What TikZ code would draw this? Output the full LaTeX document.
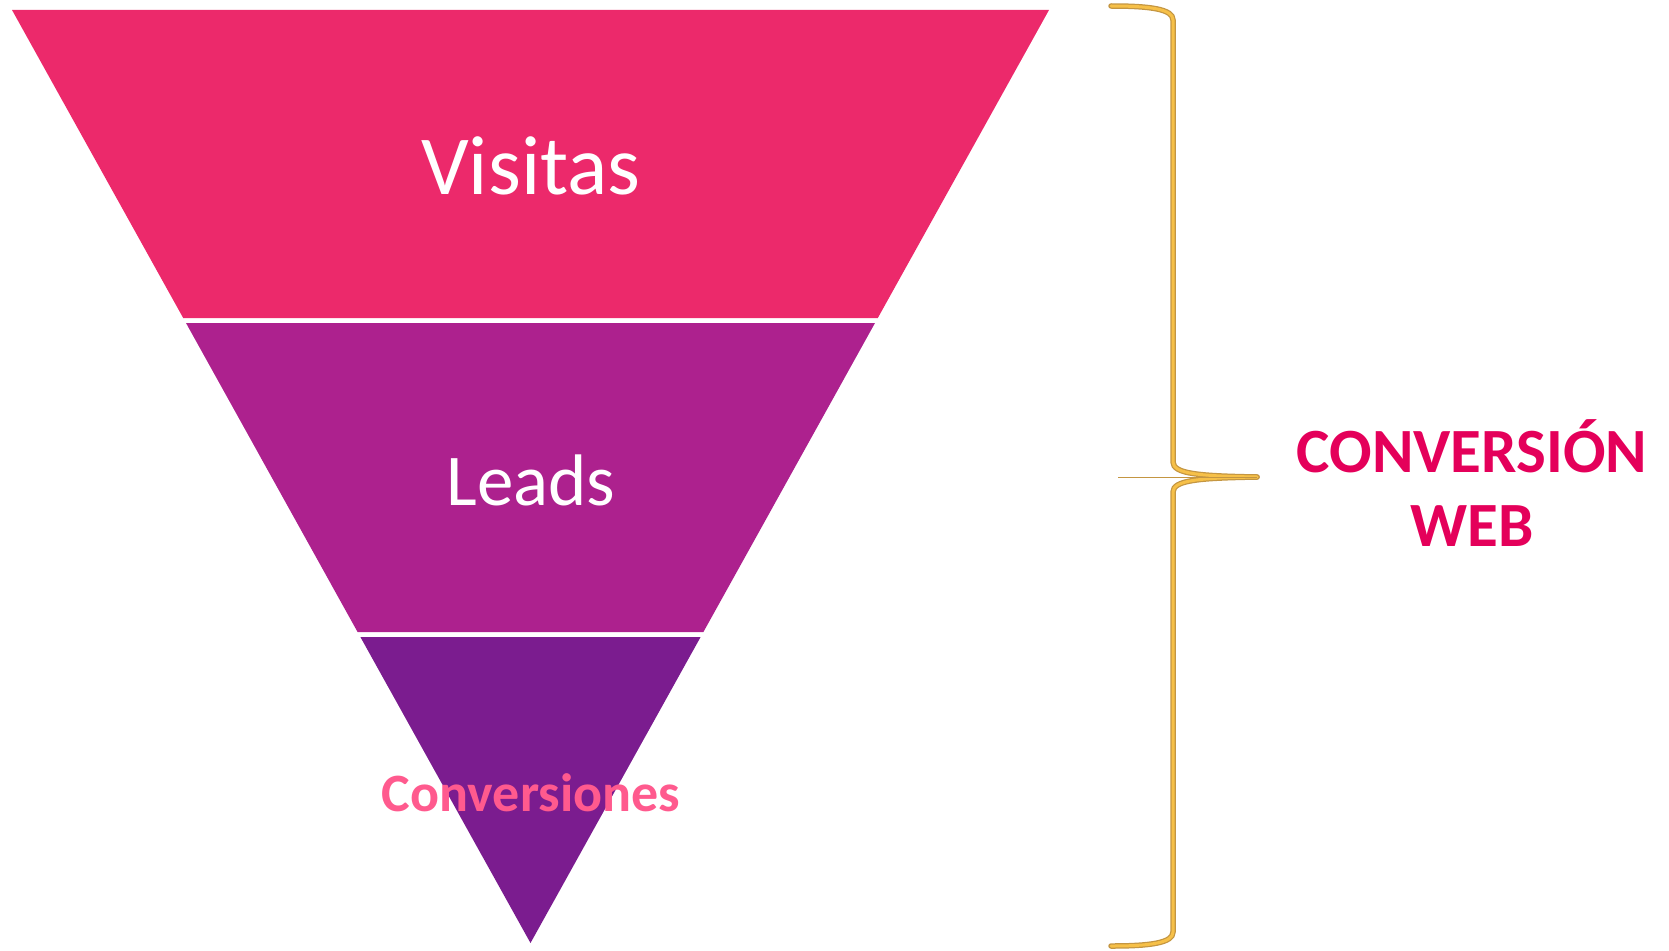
\documentclass[tikz,border=0pt]{standalone}
\usepackage{fontspec}
\setmainfont{Carlito}
\usetikzlibrary{positioning}
\definecolor{visitasColor}{RGB}{236,41,107}
\definecolor{leadsColor}{RGB}{173,33,142}
\definecolor{convColor}{RGB}{123,28,143}
\definecolor{convText}{RGB}{255,90,142}
\definecolor{webColor}{RGB}{228,0,90}
\definecolor{braceEdge}{RGB}{196,150,66}
\definecolor{braceColor}{RGB}{246,192,72}
\newcommand{\stageFont}{\fontsize{84}{100}\selectfont}
\newcommand{\leadsFont}{\fontsize{73}{88}\selectfont}
\newcommand{\convFont}{\fontsize{54}{64}\selectfont\bfseries}
\newcommand{\webFont}{\fontsize{63}{74}\selectfont\bfseries}
\newcommand{\braceX}{1173}
\newcommand{\braceTip}{1257}

\begin{document}
\begin{tikzpicture}[x=1pt, y=-1pt,
  stage/.style={text=white, inner sep=0pt, anchor=base, font=\stageFont},
  braceLine/.style={line width=5.5pt, braceEdge, line cap=round},
  braceFill/.style={line width=3pt, braceColor, line cap=round}]
\useasboundingbox (0,0) rectangle (1669,950);
\fill[visitasColor] (12,10) -- (1049,10) -- (877.8,318) -- (183.2,318) -- cycle;
\fill[leadsColor] (186,323) -- (875,323) -- (703.4,632) -- (357.6,632) -- cycle;
\fill[convColor] (360.4,637) -- (700.6,637) -- (530.5,943) -- cycle;
\node[stage] (visitas) at (531,194) {Visitas};
\node[stage, font=\leadsFont] (leads) at (531,505) {Leads};
\node[stage, text=convText, font=\convFont] (conversiones) at (531,811) {Conversiones};
% llave
\foreach \s in {braceLine,braceFill}{
  \draw[\s] (1111,6) .. controls (1150,6) and (\braceX,9) .. (\braceX,20) -- (\braceX,462)
    .. controls (\braceX,474) and (1200,476) .. (\braceTip,477);
  \draw[\s] (1111,946) .. controls (1150,946) and (\braceX,943) .. (\braceX,932) -- (\braceX,492)
    .. controls (\braceX,480) and (1200,478) .. (\braceTip,477);
}
\draw[braceEdge, line width=1pt] (1118,477) -- (\braceTip,477);
\node[anchor=base, text=webColor, font=\webFont, inner sep=0pt] (webTitle) at (1472,472) {CONVERSIÓN};
\node[anchor=base, text=webColor, font=\webFont, inner sep=0pt] (webSub) at ([yshift=-74pt]webTitle.base) {WEB};
\end{tikzpicture}
\end{document}
